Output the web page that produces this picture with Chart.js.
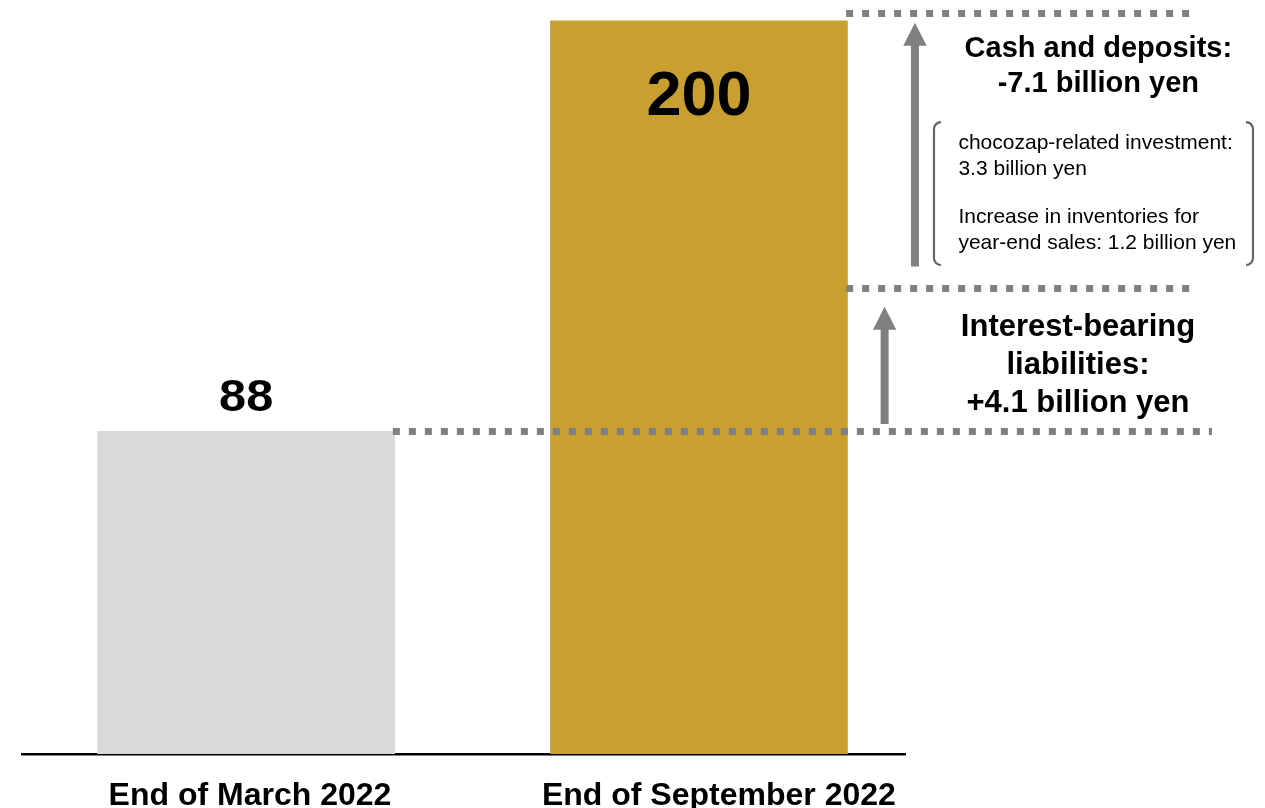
<!DOCTYPE html>
<html>
<head>
<meta charset="utf-8">
<script src="https://cdn.jsdelivr.net/npm/chart.js@4/dist/chart.umd.min.js"></script>
<style>
  html, body { margin: 0; padding: 0; background: #ffffff; }
  #wrap { position: relative; width: 1265px; height: 808px; }
</style>
</head>
<body>
<div id="wrap"><canvas id="chart" width="1265" height="808"></canvas></div>
<script>
// Net balance (100 million yen) at each period end
const categories = ['End of March 2022', 'End of September 2022'];
const balances = [88, 200];
const barColors = ['#d9d9d9', '#c9a02f'];

// Dotted guide levels and the two change arrows (from -> to, in balance units)
const guideLevels = [88, 127, 202];
const liabilitiesArrow = [90, 122];
const cashArrow = [133, 199.5];

// Annotation texts
const cashTitle = ['Cash and deposits:', '-7.1 billion yen'];
const liabilitiesTitle = ['Interest-bearing', 'liabilities:', '+4.1 billion yen'];
const cashBreakdown = [
  ['chocozap-related investment:', '3.3 billion yen'],
  ['Increase in inventories for', 'year-end sales: 1.2 billion yen']
];

const FONT = '"Liberation Sans", Arial, Helvetica, sans-serif';
const GREY = '#808080';

// Layout of the annotations, in x-axis units (categories sit at 0 and 1) and balance units
const guideSpans = [[0.324, 2.133], [1.325, 2.087], [1.325, 2.087]];
const layoutCfg = {
  categoryLabelX: [0.0085, 1.044],
  liabilitiesArrowX: 1.410,
  cashArrowX: 1.477,
  cashTitle: { x: 1.882, y: 190.1, lineGap: 35, size: 29 },
  liabilitiesTitle: { x: 1.837, y: 114.1, lineGap: 38, size: 31 },
  bracket: { left: 1.519, right: 2.2235, top: 172.4, bottom: 133.4 },
  breakdown: { x: 1.573, y: 165.0, lineGap: 26, groupGap: 48, size: 21 },
  valueLabels: [
    { size: 45, stretch: 1.08, dy: -20 },   // baseline offset from the bar top
    { size: 63, stretch: 1.0, dy: 94 }
  ]
};

function drawText(ctx, text, x, y, size, weight, align, stretch) {
  ctx.save();
  ctx.font = weight + ' ' + size + 'px ' + FONT;
  ctx.textAlign = align;
  ctx.textBaseline = 'alphabetic';
  ctx.fillStyle = '#000000';
  ctx.translate(x, y);
  ctx.scale(stretch || 1, 1);
  ctx.fillText(text, 0, 0);
  ctx.restore();
}

function drawArrow(ctx, x, yBottom, yTip) {
  const shaft = 8, headHalf = 11.7, headLen = 23;
  ctx.save();
  ctx.fillStyle = GREY;
  ctx.beginPath();
  ctx.moveTo(x - shaft / 2, yBottom);
  ctx.lineTo(x - shaft / 2, yTip + headLen);
  ctx.lineTo(x - headHalf, yTip + headLen);
  ctx.lineTo(x, yTip);
  ctx.lineTo(x + headHalf, yTip + headLen);
  ctx.lineTo(x + shaft / 2, yTip + headLen);
  ctx.lineTo(x + shaft / 2, yBottom);
  ctx.closePath();
  ctx.fill();
  ctx.restore();
}

const annotations = {
  id: 'balanceAnnotations',
  afterDraw(chart) {
    const ctx = chart.ctx;
    const xs = chart.scales.x, ys = chart.scales.y;
    const X = v => xs.getPixelForValue(v);
    const Y = v => ys.getPixelForValue(v);

    // value labels on the bars
    const meta = chart.getDatasetMeta(0);
    meta.data.forEach((bar, i) => {
      const st = layoutCfg.valueLabels[i];
      drawText(ctx, String(balances[i]), bar.x, bar.y + st.dy, st.size, 'bold', 'center', st.stretch);
    });

    // dotted guides
    ctx.save();
    ctx.strokeStyle = GREY;
    ctx.lineWidth = 7;
    ctx.setLineDash([7, 9]);
    ctx.lineCap = 'butt';
    guideLevels.forEach((lvl, i) => {
      const y = Y(lvl);
      ctx.beginPath();
      ctx.moveTo(X(guideSpans[i][0]), y);
      ctx.lineTo(X(guideSpans[i][1]), y);
      ctx.stroke();
    });
    ctx.restore();

    // change arrows
    drawArrow(ctx, X(layoutCfg.liabilitiesArrowX), Y(liabilitiesArrow[0]), Y(liabilitiesArrow[1]));
    drawArrow(ctx, X(layoutCfg.cashArrowX), Y(cashArrow[0]), Y(cashArrow[1]));

    // headings
    const ct = layoutCfg.cashTitle;
    cashTitle.forEach((t, i) => drawText(ctx, t, X(ct.x), Y(ct.y) + i * ct.lineGap, ct.size, 'bold', 'center'));
    const lt = layoutCfg.liabilitiesTitle;
    liabilitiesTitle.forEach((t, i) => drawText(ctx, t, X(lt.x), Y(lt.y) + i * lt.lineGap, lt.size, 'bold', 'center'));

    // breakdown bracket
    const b = layoutCfg.bracket;
    const bl = X(b.left), br = X(b.right), bt = Y(b.top), bb = Y(b.bottom), r = 7;
    ctx.save();
    ctx.strokeStyle = '#666666';
    ctx.lineWidth = 2.2;
    ctx.beginPath();
    ctx.moveTo(bl + r, bt);
    ctx.arcTo(bl, bt, bl, bt + r, r);
    ctx.lineTo(bl, bb - r);
    ctx.arcTo(bl, bb, bl + r, bb, r);
    ctx.moveTo(br - r, bt);
    ctx.arcTo(br, bt, br, bt + r, r);
    ctx.lineTo(br, bb - r);
    ctx.arcTo(br, bb, br - r, bb, r);
    ctx.stroke();
    ctx.restore();

    // breakdown lines
    const bd = layoutCfg.breakdown;
    let y = Y(bd.y);
    cashBreakdown.forEach((group, g) => {
      if (g > 0) y += bd.groupGap - bd.lineGap;
      group.forEach((t, i) => {
        if (i > 0 || g > 0) y += bd.lineGap;
        drawText(ctx, t, X(bd.x), y, bd.size, 'normal', 'left');
      });
    });
  }
};

new Chart(document.getElementById('chart'), {
  type: 'bar',
  data: {
    datasets: [{
      data: balances.map((v, i) => ({ x: i, y: v })),
      backgroundColor: barColors,
      borderWidth: 0,
      barThickness: 297
    }]
  },
  options: {
    responsive: false,
    animation: false,
    layout: { padding: { left: 22, right: 360, top: 0, bottom: 0 } },
    plugins: {
      legend: { display: false },
      tooltip: { enabled: false }
    },
    scales: {
      x: {
        type: 'linear',
        min: -0.495,
        max: 1.455,
        offset: false,
        grid: { display: false, drawTicks: false, offset: false },
        border: { display: true, color: '#000000', width: 2.5 },
        afterBuildTicks: axis => { axis.ticks = layoutCfg.categoryLabelX.map(v => ({ value: v })); },
        afterFit: axis => { axis.height = 54; },
        ticks: {
          callback: (v, i) => categories[i] ?? '',
          color: '#000000',
          font: { family: FONT, size: 32, weight: 'bold', lineHeight: 1.0 },
          padding: 26,
          maxRotation: 0,
          autoSkip: false
        }
      },
      y: { display: false, min: 0, max: 205.7 }
    }
  },
  plugins: [annotations]
});
</script>
</body>
</html>
